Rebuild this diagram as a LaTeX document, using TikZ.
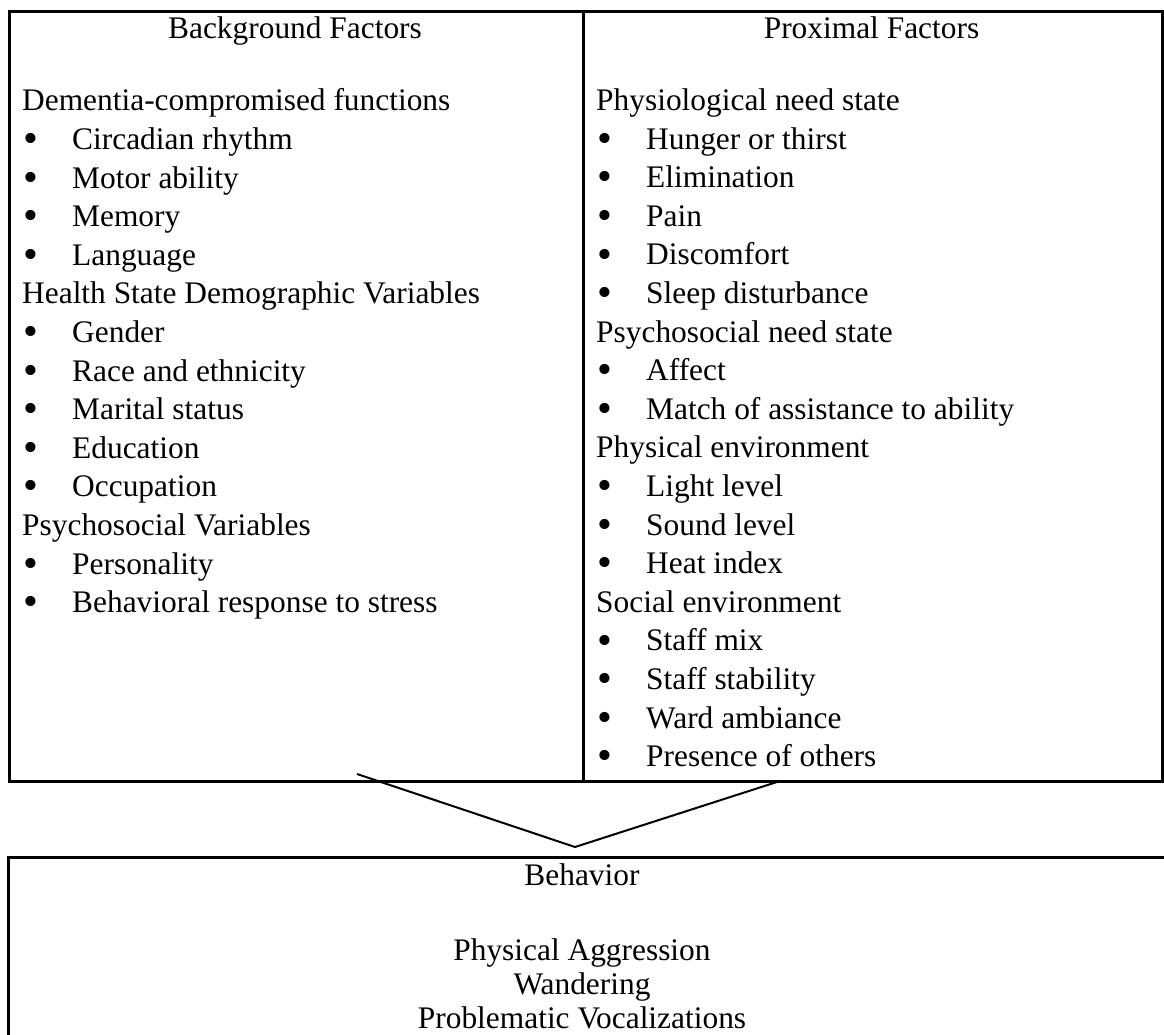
\documentclass[tikz,border=0pt]{standalone}
\usepackage{fontspec}
\usepackage{graphicx}
\setmainfont{Liberation Serif}
\usetikzlibrary{positioning}
\newcommand{\bodyfont}{\fontsize{31.4pt}{38.6pt}\selectfont}
\newcommand{\bul}{\hspace*{1pt}\makebox[49pt][l]{\raisebox{-0.1em}{\scalebox{1.35}{\textbullet}}}}
\tikzset{
	%Diagram style
	factorbox/.style={
		draw,
		rectangle,
		line width=3pt,
		anchor=north west,
		inner sep=0pt,
	},
	heading/.style={
		anchor=base,
		inner sep=0pt,
		font=\bodyfont,
	},
	itemlist/.style={
		anchor=north west,
		inner sep=0pt,
		align=left,
		font=\bodyfont,
	},
	chevron/.style={
		line width=2pt,
	},
}

\begin{document}
\begin{tikzpicture}[x=1pt, y=-1pt]
	\useasboundingbox (0,0) rectangle (1164,1034);

	% the two columns of factors
	\node(background) at (8,10) [factorbox, minimum width=574pt, minimum height=770pt] {};
	\node(proximal) at (582,10) [factorbox, minimum width=579pt, minimum height=770pt] {};

	\node(bghead) at (295,38) [heading] {Background Factors};
	\node(pxhead) at (871.5,38) [heading] {Proximal Factors};

	\node(bglist) at (22,88.5) [itemlist] {Dementia-compromised functions \\
	\bul Circadian rhythm \\
	\bul Motor ability \\
	\bul Memory \\
	\bul Language \\
	Health State Demographic Variables \\
	\bul Gender \\
	\bul Race and ethnicity \\
	\bul Marital status \\
	\bul Education \\
	\bul Occupation \\
	Psychosocial Variables \\
	\bul Personality \\
	\bul Behavioral response to stress};

	\node(pxlist) at (596,88.5) [itemlist] {Physiological need state \\
	\bul Hunger or thirst \\
	\bul Elimination \\
	\bul Pain \\
	\bul Discomfort \\
	\bul Sleep disturbance \\
	Psychosocial need state \\
	\bul Affect \\
	\bul Match of assistance to ability \\
	Physical environment \\
	\bul Light level \\
	\bul Sound level \\
	\bul Heat index \\
	Social environment \\
	\bul Staff mix \\
	\bul Staff stability \\
	\bul Ward ambiance \\
	\bul Presence of others};

	% behavior box, open at the right and the bottom
	\node(behavior) at (8,857) [anchor=north west, minimum width=1200pt, minimum height=200pt, inner sep=0pt] {};
	\draw[line width=3pt] (behavior.south west) -- (behavior.north west) -- (behavior.north east);

	\node(bhead) at (582,885) [heading] {Behavior};
	\node(blist) at (582,938.5) [itemlist, anchor=north, align=center, font=\fontsize{31.4pt}{34pt}\selectfont] {Physical Aggression \\
	Wandering \\
	Problematic Vocalizations};

	\coordinate (vleft) at (357,774);
	\coordinate (vtip) at (575,847);
	\coordinate (vright) at (780,781);
	\draw[chevron] (vleft) -- (vtip) -- (vright);
\end{tikzpicture}
\end{document}
